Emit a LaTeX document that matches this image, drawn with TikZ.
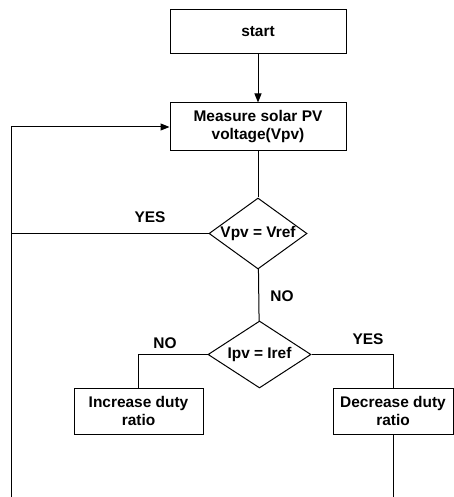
\documentclass[tikz,border=0pt]{standalone}
\usepackage{fontspec}
\setmainfont{Liberation Sans}
\usetikzlibrary{shapes.geometric,arrows.meta}
\begin{document}
\begin{tikzpicture}[x=1bp,y=-1bp,line width=1bp,
  every node/.style={font=\fontsize{15.5}{18}\selectfont\bfseries},
  box/.style={draw,rectangle,align=center,inner sep=0pt},
  dia/.style={draw,diamond,inner sep=0pt,text height=11bp,text depth=3bp},
  lbl/.style={inner sep=0pt},
  arr/.style={-{Triangle[length=9bp,width=7bp]}}]
\useasboundingbox (0,0) rectangle (454,497);
\node[box,minimum width=176bp,minimum height=44bp] (start) at (258,32) {start};
\node[box,minimum width=176bp,minimum height=48bp] (meas) at (258,127) {Measure solar PV\\voltage(Vpv)};
\node[dia,aspect=1.42,minimum width=98bp,minimum height=71bp] (d1) at (258,233.5) {Vpv = Vref};
\node[dia,aspect=1.55,minimum width=103bp,minimum height=67bp] (d2) at (259.5,354.5) {Ipv = Iref};
\node[box,minimum width=129bp,minimum height=46bp] (inc) at (138.5,411) {Increase duty\\ratio};
\node[box,minimum width=120bp,minimum height=46bp] (dec) at (393,411) {Decrease duty\\ratio};
\coordinate (lb) at (11,497);
\coordinate (rb) at (393,497);
\node[lbl] (yes1) at (150,217) {YES};
\node[lbl] (no1) at (282,296) {NO};
\node[lbl] (no2) at (165,343) {NO};
\node[lbl] (yes2) at (368,339) {YES};
\draw[arr] (start) -- (meas);
\draw (meas) -- (d1);
\draw (d1) -- (d2);
\draw[arr] (lb) |- (meas.west);
\draw (d1.west) -- (d1.west -| lb);
\draw (d2.west) -| (inc.north);
\draw (d2.east) -| (dec.north);
\draw (dec) -- (rb);
\end{tikzpicture}
\end{document}
